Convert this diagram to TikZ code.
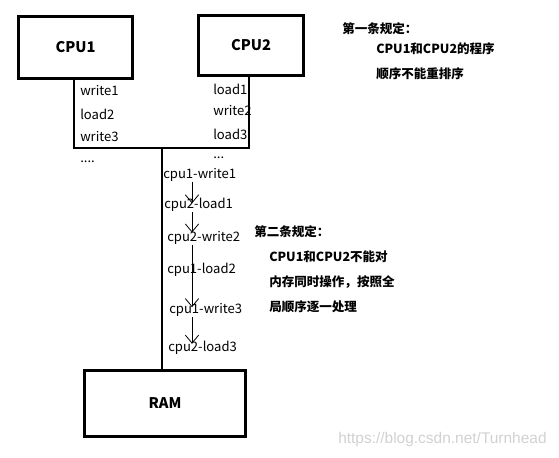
\documentclass[tikz,border=0pt]{standalone}
\usepackage{fontspec}
\setmainfont{Noto Sans CJK SC}
\newfontfamily\markfont{Liberation Sans}
\usepackage{tikz}
\usetikzlibrary{positioning,arrows.meta}

\begin{document}
\begin{tikzpicture}[
  x=0.75pt,y=-0.75pt,
  box/.style={rectangle,draw,line width=2.3pt,font=\bfseries\fontsize{11}{13}\selectfont},
  op/.style={anchor=west,inner sep=0pt,font=\fontsize{9.8}{12}\selectfont},
  rulehead/.style={anchor=west,inner sep=0pt,font=\bfseries\fontsize{9.4}{12}\selectfont},
  ruleline/.style={anchor=west,inner sep=0pt,font=\bfseries\fontsize{9.4}{12}\selectfont},
  bus/.style={line width=0.8pt},
  arrow/.style={-{Straight Barb[length=6pt,width=10pt]},line width=0.6pt}
]
\useasboundingbox (0,0) rectangle (559,457);
% boxes
\node[box,minimum width=85.5pt,minimum height=46.5pt] (cpu1) at (75.5,47.3) {CPU1};
\node[box,minimum width=78.8pt,minimum height=45pt] (cpu2) at (251,45.5) {CPU2};
\node[box,minimum width=120.8pt,minimum height=49.5pt] (ram) at (165,403.5) {RAM};
% program order of each cpu
\node[op] (c1a) at (80,91) {write1};
\node[op] (c1b) at (80,114) {load2};
\node[op] (c1c) at (80,137) {write3};
\node[op] (c1d) at (80,162) {....};
\node[op] (c2a) at (213,89) {load1};
\node[op] (c2b) at (213,111) {write2};
\node[op] (c2c) at (213,134) {load3};
\node[op] (c2d) at (213,158) {...};
% bus
\coordinate (busL) at (74,148);
\coordinate (busR) at (249,148);
\coordinate (busM) at (162,147);
\draw[bus] (cpu1.south -| busL) -- (busL) -- (busR) -- (cpu2.south -| busR);
\draw[bus] (busM) -- (ram.north -| busM);
% global order
\node[op] (s1) at (163,175) {cpu1-write1};
\node[op] (s2) at (164,205) {cpu2-load1};
\node[op] (s3) at (167,238) {cpu2-write2};
\node[op] (s4) at (167,270) {cpu1-load2};
\node[op] (s5) at (169,310) {cpu1-write3};
\node[op] (s6) at (168,348) {cpu2-load3};
\coordinate (axis) at (192,0);
\draw[arrow] (s1.south -| axis) -- ([yshift=-4pt]s2.north -| axis);
\draw[arrow] (s2.south -| axis) -- ([yshift=-1pt]s3.north -| axis);
\draw[arrow] (s3.south -| axis) -- ([yshift=-3pt]s5.north -| axis);
\draw[arrow] (s5.south -| axis) -- ([yshift=-2pt]s6.north -| axis);
% rules
\node[rulehead] (r1) at (342,29) {第一条规定：};
\node[ruleline] (r1a) at (376,49) {CPU1和CPU2的程序};
\node[ruleline] (r1b) at (376,74) {顺序不能重排序};
\node[rulehead] (r2) at (254,232) {第二条规定：};
\node[ruleline] (r2a) at (269,257) {CPU1和CPU2不能对};
\node[ruleline] (r2b) at (269,282) {内存同时操作，按照全};
\node[ruleline] (r2c) at (269,307) {局顺序逐一处理};
% watermark
\node[anchor=west,inner sep=0pt,text=black!18,font=\markfont\fontsize{11.6}{13}\selectfont] (mark) at (338,439) {https://blog.csdn.net/Turnhead};
\end{tikzpicture}
\end{document}
